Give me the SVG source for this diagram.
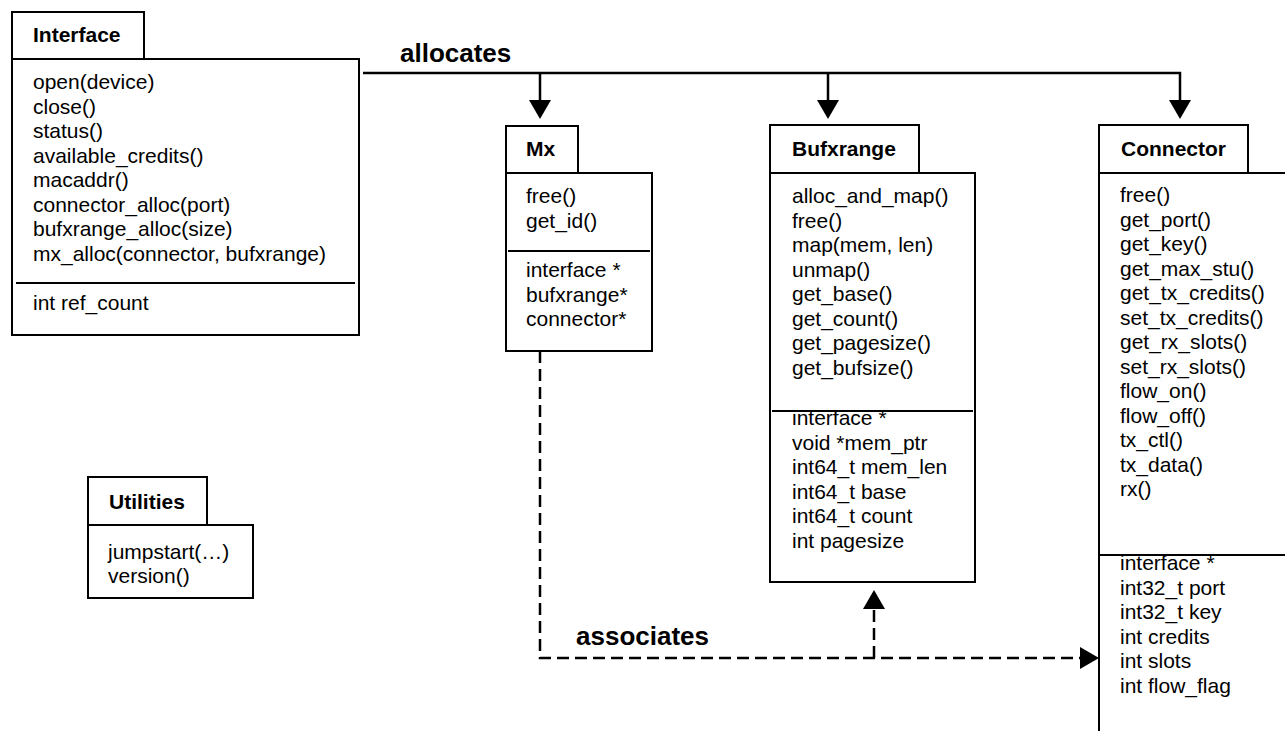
<svg xmlns="http://www.w3.org/2000/svg" width="1285" height="731" viewBox="0 0 1285 731">
<style>
  .box { fill: #fff; stroke: #000; stroke-width: 2; }
  .div { stroke: #000; stroke-width: 2; }
  .title { font-family: "Liberation Sans", Arial, sans-serif; font-weight: bold; font-size: 21px; fill: #000; }
  .mem { font-family: "Liberation Sans", Arial, sans-serif; font-size: 21px; fill: #000; }
  .lbl { font-family: "Liberation Sans", Arial, sans-serif; font-weight: bold; font-size: 26px; fill: #000; }
  .conn { fill: none; stroke: #000; stroke-width: 2.5; }
  .dash { fill: none; stroke: #000; stroke-width: 2.5; stroke-dasharray: 12 6; }
</style>
<defs>
  <marker id="arr" viewBox="0 0 19 22" refX="0" refY="11" markerWidth="19" markerHeight="22" markerUnits="userSpaceOnUse" orient="auto">
    <path d="M0,0 L19,11 L0,22 z" fill="#000"/>
  </marker>
</defs>

<g id="connectors">
  <path class="conn" d="M363,73 H1180 V100" marker-end="url(#arr)"/>
  <path class="conn" d="M540,73 V100" marker-end="url(#arr)"/>
  <path class="conn" d="M828,73 V100" marker-end="url(#arr)"/>
  <text class="lbl" x="400" y="62">allocates</text>
  <path class="dash" d="M540,351 V658 H1080" marker-end="url(#arr)"/>
  <path class="dash" d="M874,658 V609" marker-end="url(#arr)"/>
  <text class="lbl" x="576" y="645">associates</text>
</g>

<g id="interface">
  <rect class="box" x="12" y="12" width="132" height="47"/>
  <rect class="box" x="12" y="59" width="347" height="276"/>
  <text class="title" x="33" y="42">Interface</text>
  <text class="mem" x="33" y="89">open(device)</text>
  <text class="mem" x="33" y="113.5">close()</text>
  <text class="mem" x="33" y="138">status()</text>
  <text class="mem" x="33" y="162.5">available_credits()</text>
  <text class="mem" x="33" y="187">macaddr()</text>
  <text class="mem" x="33" y="211.5">connector_alloc(port)</text>
  <text class="mem" x="33" y="236">bufxrange_alloc(size)</text>
  <text class="mem" x="33" y="260.5">mx_alloc(connector, bufxrange)</text>
  <line class="div" x1="16" y1="283" x2="355" y2="283"/>
  <text class="mem" x="33" y="310">int ref_count</text>
</g>

<g id="mx">
  <rect class="box" x="506" y="126" width="72" height="47"/>
  <rect class="box" x="506" y="173" width="146" height="178"/>
  <text class="title" x="526" y="156">Mx</text>
  <text class="mem" x="526" y="203">free()</text>
  <text class="mem" x="526" y="227.5">get_id()</text>
  <line class="div" x1="508" y1="251" x2="650" y2="251"/>
  <text class="mem" x="526" y="277">interface *</text>
  <text class="mem" x="526" y="301.5">bufxrange*</text>
  <text class="mem" x="526" y="326">connector*</text>
</g>

<g id="bufxrange">
  <rect class="box" x="770" y="125" width="149" height="48"/>
  <rect class="box" x="770" y="173" width="205" height="409"/>
  <text class="title" x="792" y="156">Bufxrange</text>
  <text class="mem" x="792" y="203">alloc_and_map()</text>
  <text class="mem" x="792" y="227.5">free()</text>
  <text class="mem" x="792" y="252">map(mem, len)</text>
  <text class="mem" x="792" y="276.5">unmap()</text>
  <text class="mem" x="792" y="301">get_base()</text>
  <text class="mem" x="792" y="325.5">get_count()</text>
  <text class="mem" x="792" y="350">get_pagesize()</text>
  <text class="mem" x="792" y="374.5">get_bufsize()</text>
  <text class="mem" x="792" y="425">interface *</text>
  <line class="div" x1="772" y1="411" x2="973" y2="411"/>
  <text class="mem" x="792" y="449.5">void *mem_ptr</text>
  <text class="mem" x="792" y="474">int64_t mem_len</text>
  <text class="mem" x="792" y="498.5">int64_t base</text>
  <text class="mem" x="792" y="523">int64_t count</text>
  <text class="mem" x="792" y="547.5">int pagesize</text>
</g>

<g id="connector">
  <rect class="box" x="1099" y="125" width="149" height="48"/>
  <rect class="box" x="1099" y="173" width="200" height="570"/>
  <text class="title" x="1121" y="156">Connector</text>
  <text class="mem" x="1120" y="202">free()</text>
  <text class="mem" x="1120" y="226.5">get_port()</text>
  <text class="mem" x="1120" y="251">get_key()</text>
  <text class="mem" x="1120" y="275.5">get_max_stu()</text>
  <text class="mem" x="1120" y="300">get_tx_credits()</text>
  <text class="mem" x="1120" y="324.5">set_tx_credits()</text>
  <text class="mem" x="1120" y="349">get_rx_slots()</text>
  <text class="mem" x="1120" y="373.5">set_rx_slots()</text>
  <text class="mem" x="1120" y="398">flow_on()</text>
  <text class="mem" x="1120" y="422.5">flow_off()</text>
  <text class="mem" x="1120" y="447">tx_ctl()</text>
  <text class="mem" x="1120" y="471.5">tx_data()</text>
  <text class="mem" x="1120" y="496">rx()</text>
  <text class="mem" x="1120" y="570">interface *</text>
  <line class="div" x1="1099" y1="555" x2="1285" y2="555"/>
  <text class="mem" x="1120" y="594.5">int32_t port</text>
  <text class="mem" x="1120" y="619">int32_t key</text>
  <text class="mem" x="1120" y="643.5">int credits</text>
  <text class="mem" x="1120" y="668">int slots</text>
  <text class="mem" x="1120" y="692.5">int flow_flag</text>
</g>

<g id="utilities">
  <rect class="box" x="88" y="477" width="119" height="48"/>
  <rect class="box" x="88" y="525" width="165" height="73"/>
  <text class="title" x="109" y="509">Utilities</text>
  <text class="mem" x="108" y="559">jumpstart(…)</text>
  <text class="mem" x="108" y="583">version()</text>
</g>
</svg>
